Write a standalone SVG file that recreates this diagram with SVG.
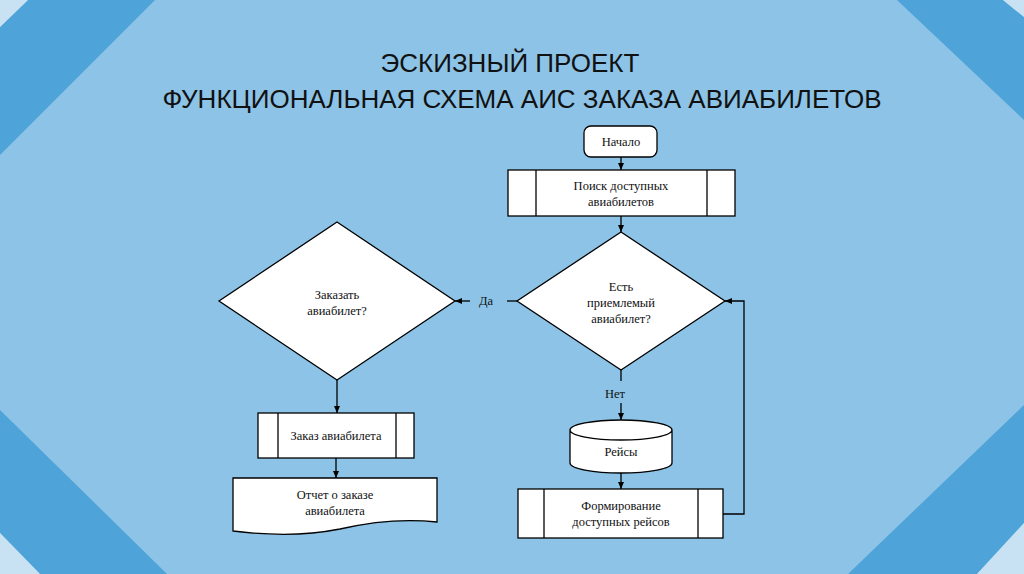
<svg xmlns="http://www.w3.org/2000/svg" width="1024" height="574" viewBox="0 0 1024 574">
<style>
.box{fill:#fff;stroke:#000;stroke-width:1.3}
.ln{fill:none;stroke:#000;stroke-width:1.3}
.t{font-family:"Liberation Serif","Times New Roman",serif;font-size:12.5px;fill:#111;text-anchor:middle}
.title{font-family:"Liberation Sans",Arial,sans-serif;font-size:26px;fill:#111;text-anchor:middle}
</style>
<defs>
<marker id="ah" markerWidth="8" markerHeight="8" refX="7" refY="4" orient="auto" markerUnits="userSpaceOnUse">
<path d="M0,1 L7,4 L0,7 Z" fill="#000"/>
</marker>
</defs>
<rect width="1024" height="574" fill="#8CC3E6"/>
<g id="corners">
<polygon points="28,0 155,0 0,155 0,27" fill="#4EA3D8"/>
<polygon points="0,0 28,0 0,27" fill="#C8E2F3"/>
<polygon points="897,0 1003,0 1024,17 1024,120" fill="#4EA3D8"/>
<polygon points="1003,0 1024,0 1024,17" fill="#C8E2F3"/>
<polygon points="0,410 167,574 40,574 0,533" fill="#4EA3D8"/>
<polygon points="0,533 40,574 0,574" fill="#C8E2F3"/>
<polygon points="848,574 1024,405 1024,523 977,574" fill="#4EA3D8"/>
<polygon points="977,574 1024,523 1024,574" fill="#C8E2F3"/>
</g>
<g id="title">
<text class="title" x="510" y="72">ЭСКИЗНЫЙ ПРОЕКТ</text>
<text class="title" x="522" y="108">ФУНКЦИОНАЛЬНАЯ СХЕМА АИС ЗАКАЗА АВИАБИЛЕТОВ</text>
</g>
<g id="connectors">
<line class="ln" x1="621" y1="157" x2="621" y2="170" marker-end="url(#ah)"/>
<line class="ln" x1="621" y1="216" x2="621" y2="232" marker-end="url(#ah)"/>
<line class="ln" x1="517" y1="301" x2="507" y2="301"/>
<line class="ln" x1="470" y1="301" x2="455" y2="301" marker-end="url(#ah)"/>
<text class="t" x="486" y="305">Да</text>
<line class="ln" x1="621" y1="370" x2="621" y2="381"/>
<text class="t" x="615" y="398">Нет</text>
<line class="ln" x1="621" y1="403" x2="621" y2="420" marker-end="url(#ah)"/>
<line class="ln" x1="621" y1="473" x2="621" y2="489" marker-end="url(#ah)"/>
<polyline class="ln" points="723,514 744,514 744,301 725,301" marker-end="url(#ah)"/>
<line class="ln" x1="337" y1="380" x2="337" y2="413" marker-end="url(#ah)"/>
<line class="ln" x1="336" y1="458" x2="336" y2="478" marker-end="url(#ah)"/>
</g>
<g id="start">
<rect class="box" x="584" y="126" width="73" height="31" rx="7"/>
<text class="t" x="621" y="146">Начало</text>
</g>
<g id="search">
<rect class="box" x="508" y="170" width="227" height="46"/>
<line class="ln" x1="536" y1="170" x2="536" y2="216"/>
<line class="ln" x1="707" y1="170" x2="707" y2="216"/>
<text class="t" x="621" y="190">Поиск доступных</text>
<text class="t" x="621" y="206">авиабилетов</text>
</g>
<g id="decision-acceptable">
<polygon class="box" points="621,232 725,301 621,370 517,301"/>
<text class="t" x="621" y="291">Есть</text>
<text class="t" x="621" y="307">приемлемый</text>
<text class="t" x="621" y="323">авиабилет?</text>
</g>
<g id="decision-order">
<polygon class="box" points="337,222 455,301 337,380 219,301"/>
<text class="t" x="337" y="299">Заказать</text>
<text class="t" x="337" y="315">авиабилет?</text>
</g>
<g id="flights">
<path class="box" d="M570,430 V463 A51,10 0 0 0 672,463 V430 A51,10 0 0 0 570,430 A51,10 0 0 0 672,430"/>
<text class="t" x="621" y="456">Рейсы</text>
</g>
<g id="forming">
<rect class="box" x="518" y="489" width="205" height="49"/>
<line class="ln" x1="544" y1="489" x2="544" y2="538"/>
<line class="ln" x1="698" y1="489" x2="698" y2="538"/>
<text class="t" x="621" y="510">Формирование</text>
<text class="t" x="621" y="526">доступных рейсов</text>
</g>
<g id="order">
<rect class="box" x="258" y="413" width="156" height="45"/>
<line class="ln" x1="278" y1="413" x2="278" y2="458"/>
<line class="ln" x1="396" y1="413" x2="396" y2="458"/>
<text class="t" x="336" y="440">Заказ авиабилета</text>
</g>
<g id="report">
<path class="box" d="M233,478 H437 V522 C400,518 370,522 340,529 C300,537 265,535 233,531 Z"/>
<text class="t" x="335" y="499">Отчет о заказе</text>
<text class="t" x="335" y="515">авиабилета</text>
</g>
</svg>
